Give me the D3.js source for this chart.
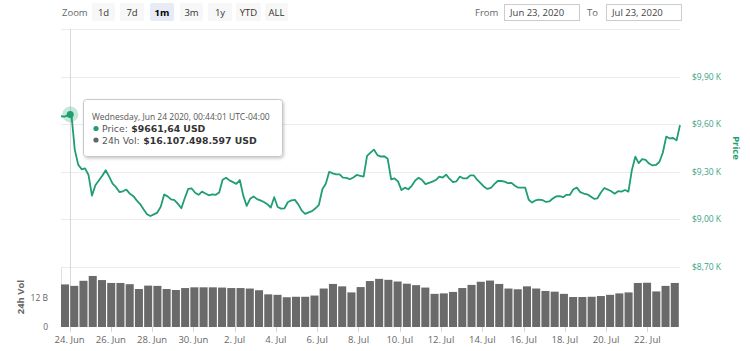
<!DOCTYPE html>
<html><head><meta charset="utf-8">
<script src="https://cdn.jsdelivr.net/npm/d3@7"></script>
<style>
html,body{margin:0;padding:0;background:#fff;}
svg{display:block;font-family:"Open Sans",sans-serif;}
</style></head>
<body><svg id="c" width="750" height="351"></svg>
<script>
// ---------- data ----------
const priceStart = "2020-06-23T14:00:00Z";
const priceStepHours = 4;
const price = [9650,9648,9655,9669,9440,9345,9316,9322,9280,9150,
9215,9245,9275,9310,9270,9225,9203,9172,9177,9188,
9162,9148,9120,9097,9064,9033,9021,9032,9043,9080,
9157,9145,9126,9122,9098,9070,9135,9192,9195,9168,
9155,9175,9163,9152,9158,9155,9170,9250,9262,9246,
9235,9224,9248,9150,9085,9130,9145,9128,9120,9110,
9096,9075,9140,9078,9068,9070,9110,9120,9123,9095,
9055,9035,9044,9052,9070,9092,9190,9225,9300,9290,
9284,9284,9263,9262,9253,9264,9280,9275,9270,9400,
9421,9440,9405,9396,9398,9382,9253,9258,9240,9185,
9200,9190,9212,9245,9262,9248,9222,9230,9238,9248,
9270,9264,9282,9255,9235,9240,9270,9258,9258,9278,
9278,9250,9228,9206,9192,9198,9222,9242,9242,9238,
9228,9230,9212,9200,9200,9200,9124,9106,9120,9125,
9122,9110,9113,9132,9145,9147,9140,9155,9155,9190,
9200,9172,9163,9158,9145,9130,9133,9170,9198,9188,
9177,9162,9178,9175,9185,9175,9310,9395,9355,9380,
9375,9352,9340,9343,9362,9420,9522,9510,9513,9498,9594];
// 24h volume, billions USD, evenly spaced bars over the range
const volume = [17.6,17.0,19.1,21.1,19.4,18.2,18.2,17.7,15.7,17.1,
17.0,15.7,15.3,16.1,16.4,16.4,16.4,16.3,16.1,16.1,
15.9,15.2,13.5,13.3,12.3,12.5,12.5,13.0,15.9,17.8,
16.8,14.3,16.5,19.0,19.9,19.5,18.8,17.9,17.3,16.3,
13.7,13.9,14.5,16.1,17.4,18.7,19.2,17.8,15.9,15.6,
16.8,15.9,14.9,14.6,13.7,12.4,12.4,12.5,12.8,13.3,
13.9,14.3,18.2,18.3,14.7,17.0,18.2];
const priceTicks = [8700,9000,9300,9600,9900,10200];
const priceTickLabels = ["$8,70 K","$9,00 K","$9,30 K","$9,60 K","$9,90 K",""];
const volTicks = [0,12];
const volTickLabels = ["0","12 B"];
const xTickDates = ["2020-06-24","2020-06-26","2020-06-28","2020-06-30","2020-07-02","2020-07-04","2020-07-06","2020-07-08","2020-07-10","2020-07-12","2020-07-14","2020-07-16","2020-07-18","2020-07-20","2020-07-22"];
const xTickLabels = ["24. Jun","26. Jun","28. Jun","30. Jun","2. Jul","4. Jul","6. Jul","8. Jul","10. Jul","12. Jul","14. Jul","16. Jul","18. Jul","20. Jul","22. Jul"];
const zoomButtons = ["1d","7d","1m","3m","1y","YTD","ALL"];
const selectedZoom = "1m";
const rangeFrom = "Jun 23, 2020", rangeTo = "Jul 23, 2020";
const hover = {time:"2020-06-24T00:44:01Z", price:9661.64, label:"Wednesday, Jun 24 2020, 00:44:01 UTC-04:00", priceText:"$9661,64 USD", volText:"$16.107.498.597 USD"};

// ---------- layout ----------
const L = 61, R = 680, PT = 29, PB = 267, VT = 267, VB = 327;
const green = "#1f9e70", labelGreen = "#3aa385", grid = "#ebebeb";

const svg = d3.select("#c");
const t0 = new Date(priceStart);
const pts = price.map((p,i)=>({t:new Date(t0.getTime()+i*priceStepHours*3600e3), p}));
const tEnd = pts[pts.length-1].t;
const x = d3.scaleUtc().domain([t0,tEnd]).range([L,R]);
const y = d3.scaleLinear().domain([8700,10200]).range([PB,PT]);
const yv = d3.scaleLinear().domain([0,24.8]).range([VB,VT]);

// top bar
const bar = svg.append("g");
bar.append("text").attr("x",62).attr("y",15.5).attr("font-size",9.5).attr("fill","#666").text("Zoom");
const bx = [92,120,150,180,208,236,265], bw = [23,24,24,23,24,25,23];
zoomButtons.forEach((b,i)=>{
  const sel = b===selectedZoom;
  bar.append("rect").attr("x",bx[i]).attr("y",3).attr("width",bw[i]).attr("height",18).attr("rx",2)
    .attr("fill", sel? "#e6ebf5":"#f7f7f7");
  bar.append("text").attr("x",bx[i]+bw[i]/2).attr("y",15.5).attr("text-anchor","middle")
    .attr("font-size",9.5).attr("font-weight",sel?700:400).attr("fill",sel?"#000":"#333").text(b);
});
bar.append("text").attr("x",475).attr("y",15.5).attr("font-size",9.5).attr("fill","#666").text("From");
bar.append("rect").attr("x",504.5).attr("y",4.5).attr("width",75).attr("height",16).attr("fill","#fff").attr("stroke","#ccc");
bar.append("text").attr("x",510).attr("y",15.5).attr("font-size",9.5).attr("fill","#444").text(rangeFrom);
bar.append("text").attr("x",587).attr("y",15.5).attr("font-size",9.5).attr("fill","#666").text("To");
bar.append("rect").attr("x",606.5).attr("y",4.5).attr("width",75).attr("height",16).attr("fill","#fff").attr("stroke","#ccc");
bar.append("text").attr("x",612).attr("y",15.5).attr("font-size",9.5).attr("fill","#444").text(rangeTo);

// price gridlines & labels
priceTicks.forEach((v,i)=>{
  svg.append("line").attr("x1",L).attr("x2",R).attr("y1",Math.round(y(v))+0.5).attr("y2",Math.round(y(v))+0.5)
    .attr("stroke",grid).attr("stroke-width",1);
  if(priceTickLabels[i]) svg.append("text").attr("x",692).attr("y",y(v)+3).attr("font-size",8.5)
    .attr("fill",labelGreen).text(priceTickLabels[i]);
});
svg.append("text").attr("transform",`translate(733,${(PT+PB)/2}) rotate(90)`).attr("text-anchor","middle")
  .attr("font-size",9.5).attr("font-weight",700).attr("fill",green).text("Price");

// volume panel
svg.append("line").attr("x1",L+0.5).attr("x2",L+0.5).attr("y1",VT).attr("y2",VB).attr("stroke","#e0e0e0");
// crosshair
const hx = x(new Date(hover.time));
svg.append("line").attr("x1",Math.round(hx)+0.5).attr("x2",Math.round(hx)+0.5).attr("y1",PT).attr("y2",VB)
  .attr("stroke","#d8d8d8").attr("stroke-width",1);
const span = tEnd - t0, bwid = (R-L)/volume.length;
svg.append("g").selectAll("rect").data(volume).join("rect")
  .attr("x",(d,j)=>x(new Date(t0.getTime()+j*span/volume.length)))
  .attr("width",bwid-1.2)
  .attr("y",d=>yv(d)).attr("height",d=>VB-yv(d))
  .attr("fill","#6a6a6a");
volTicks.forEach((v,i)=>{
  svg.append("text").attr("x",48).attr("y",yv(v)+3).attr("text-anchor","end").attr("font-size",8.5)
    .attr("fill","#666").text(volTickLabels[i]);
});
svg.append("text").attr("transform",`translate(24,${(VT+VB)/2}) rotate(-90)`).attr("text-anchor","middle")
  .attr("font-size",9.5).attr("font-weight",700).attr("fill","#666").text("24h Vol");

// x axis
xTickDates.forEach((d,i)=>{
  const xx = x(new Date(d+"T00:00:00Z"));
  svg.append("line").attr("x1",Math.round(xx)+0.5).attr("x2",Math.round(xx)+0.5).attr("y1",VB).attr("y2",VB+5).attr("stroke","#ccd6eb");
  svg.append("text").attr("x",xx).attr("y",343).attr("text-anchor","middle").attr("font-size",9.5)
    .attr("fill","#666").text(xTickLabels[i]);
});

// price line
const line = d3.line().x(d=>x(d.t)).y(d=>y(d.p)).curve(d3.curveLinear);
svg.append("path").datum(pts).attr("d",line).attr("fill","none").attr("stroke",green)
  .attr("stroke-width",1.8).attr("stroke-linejoin","round");

// hover marker
const hy = y(hover.price);
svg.append("circle").attr("cx",hx).attr("cy",hy).attr("r",8).attr("fill",green).attr("opacity",0.25);
svg.append("circle").attr("cx",hx).attr("cy",hy).attr("r",3.5).attr("fill",green);

// tooltip
const defs = svg.append("defs");
const f = defs.append("filter").attr("id","sh").attr("x","-10%").attr("y","-20%").attr("width","130%").attr("height","150%");
f.append("feDropShadow").attr("dx",1).attr("dy",1.5).attr("stdDeviation",1.8).attr("flood-color","#000").attr("flood-opacity",0.22);
const tt = svg.append("g");
tt.append("rect").attr("x",83.5).attr("y",99.5).attr("width",199).attr("height",57).attr("rx",3)
  .attr("fill","#fff").attr("stroke","#c8c8c8").attr("filter","url(#sh)");
tt.append("text").attr("x",92).attr("y",119.5).attr("font-size",8.5).attr("fill","#555").text(hover.label);
const tf = "'DejaVu Sans',sans-serif";
tt.append("circle").attr("cx",96).attr("cy",128.5).attr("r",2.6).attr("fill",green);
const lab1 = tt.append("text").attr("x",102).attr("y",132).attr("font-family",tf).attr("font-size",9.3).attr("fill","#555").text("Price:");
const w1 = lab1.node().getComputedTextLength();
tt.append("text").attr("x",102+w1+3.5).attr("y",132).attr("font-family",tf).attr("font-size",9.3).attr("font-weight",700).attr("fill","#333").text(hover.priceText);
tt.append("circle").attr("cx",96).attr("cy",140).attr("r",2.6).attr("fill","#666");
const lab2 = tt.append("text").attr("x",102).attr("y",143.5).attr("font-family",tf).attr("font-size",9.3).attr("fill","#555").text("24h Vol:");
const w2 = lab2.node().getComputedTextLength();
tt.append("text").attr("x",102+w2+3.5).attr("y",143.5).attr("font-family",tf).attr("font-size",9.3).attr("font-weight",700).attr("fill","#333").text(hover.volText);
</script></body></html>
